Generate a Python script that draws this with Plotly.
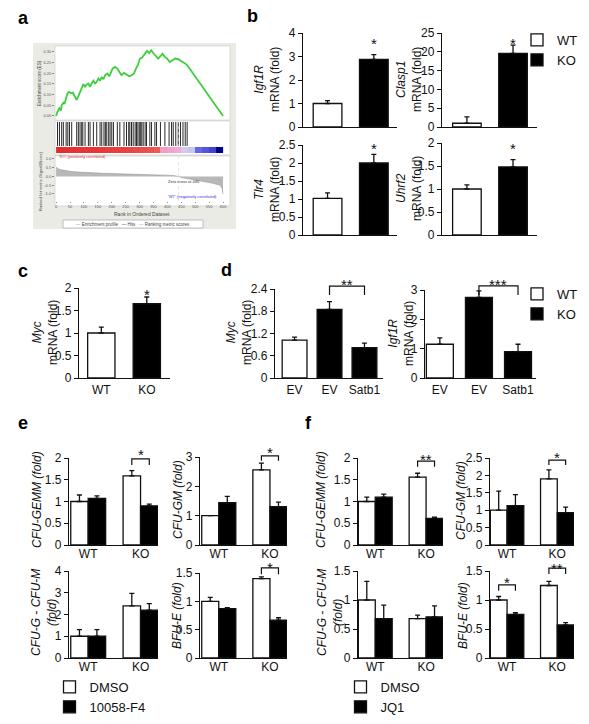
import plotly.graph_objects as go

W, H = 589, 724
FONT = "Liberation Sans"
INK = "#111111"

# ---------------- data ----------------
# panel a : GSEA
es_rank = [0, 5, 12, 17, 20, 26, 30, 35, 41, 47, 53, 60, 68, 74, 80, 86, 92, 98, 104, 110,
           116, 122, 129, 134, 140, 146, 152, 158, 164, 170, 176, 184, 191, 197, 203, 212, 220, 227, 235, 244,
           253, 263, 271, 280, 287, 295, 301, 308, 315, 323, 327, 335, 342, 349, 358, 367, 375, 382, 391, 399,
           409, 418, 428, 439, 451, 459, 468, 474, 600]
es_val = [0.0, 0.02, 0.036, 0.025, 0.05, 0.062, 0.056, 0.075, 0.106, 0.113, 0.106, 0.109, 0.09, 0.075, 0.093, 0.109, 0.129, 0.149, 0.137, 0.148,
          0.152, 0.137, 0.155, 0.165, 0.152, 0.16, 0.176, 0.165, 0.183, 0.172, 0.191, 0.199, 0.186, 0.207, 0.222, 0.23, 0.222, 0.207, 0.191, 0.202,
          0.194, 0.186, 0.191, 0.199, 0.222, 0.242, 0.269, 0.273, 0.284, 0.295, 0.305, 0.295, 0.308, 0.295, 0.284, 0.269, 0.28, 0.292, 0.277, 0.269,
          0.253, 0.261, 0.269, 0.266, 0.258, 0.249, 0.242, 0.233, 0.0]
hit_rank = [5, 12, 20, 26, 36, 42, 48, 56, 74, 80, 86, 92, 96, 104, 116, 122, 134, 146, 158, 164,
            172, 177, 182, 189, 194, 200, 206, 220, 229, 244, 253, 261, 265, 271, 277, 284, 289, 294, 299, 304,
            308, 313, 320, 325, 337, 343, 355, 361, 375, 391, 406, 415, 421, 430, 439, 447, 456, 464, 471]
metric_rank = [0, 5, 15, 30, 50, 80, 120, 170, 230, 300, 370, 420, 440, 450, 480, 520, 560, 590, 597, 600]
metric_val = [0.55, 0.46, 0.39, 0.33, 0.29, 0.25, 0.21, 0.18, 0.15, 0.12, 0.09, 0.06, 0.0, -0.06, -0.15, -0.26, -0.38, -0.5, -0.7, -1.0]
band_rank = [12.5, 37.5, 62.5, 87.5, 112.5, 137.5, 162.5, 187.5, 212.5, 237.5, 262.5, 287.5,
             312.5, 337.5, 362.5, 387.5, 412.5, 437.5, 462.5, 487.5, 512.5, 537.5, 562.5, 587.5]
band_val = [1.0, 0.98, 0.97, 0.96, 0.95, 0.94, 0.93, 0.92, 0.91, 0.9, 0.88, 0.86,
            0.84, 0.82, 0.78, 0.45, 0.42, 0.4, -0.1, -0.15, -0.5, -0.55, -0.62, -1.0]
es_ticks = [0.0, 0.05, 0.10, 0.15, 0.20, 0.25, 0.30]
rank_ticks = [0, 50, 100, 150, 200, 250, 300, 350, 400, 450, 500, 550, 600]
metric_ticks = [1.0, 0.5, 0.0, -0.5, -1.0]

# panel b : WT vs KO mRNA
b_genes = ["Igf1R", "Clasp1", "Tlr4", "Uhrf2"]
b_wt = [1.0, 1.0, 1.02, 1.0]
b_wt_err = [0.12, 1.7, 0.15, 0.09]
b_ko = [2.88, 19.6, 2.0, 1.48]
b_ko_err = [0.2, 2.2, 0.24, 0.16]
b_yticks = [[0, 1, 2, 3, 4], [0, 5, 10, 15, 20, 25], [0, 0.5, 1, 1.5, 2, 2.5], [0, 0.5, 1, 1.5, 2]]

# panel c : Myc
c_labels = ["WT", "KO"]
c_myc = [1.0, 1.65]
c_myc_err = [0.13, 0.15]

# panel d : rescue by Satb1
d_labels = ["EV", "EV", "Satb1"]
d_myc = [1.02, 1.85, 0.82]
d_myc_err = [0.08, 0.21, 0.12]
d_igf1r = [1.15, 2.75, 0.9]
d_igf1r_err = [0.22, 0.22, 0.25]

# panels e / f : colony assays (WT, KO)
groups = ["WT", "KO"]
e_titles = ["CFU-GEMM (fold)", "CFU-GM (fold)", "CFU-G - CFU-M<br>(fold)", "BFU-E (fold)"]
e_dmso = [[1.0, 1.59], [1.0, 2.56], [1.0, 2.4], [1.0, 1.4]]
e_dmso_err = [[0.15, 0.12], [0.0, 0.23], [0.3, 0.57], [0.07, 0.03]]
e_drug = [[1.07, 0.9], [1.44, 1.31], [1.0, 2.2], [0.87, 0.67]]
e_drug_err = [[0.06, 0.04], [0.22, 0.15], [0.3, 0.3], [0.02, 0.04]]
e_yticks = [[0, 0.5, 1, 1.5, 2], [0, 1, 2, 3], [0, 1, 2, 3, 4], [0, 0.5, 1, 1.5]]

f_dmso = [[1.0, 1.56], [1.0, 1.9], [1.0, 0.68], [1.0, 1.25]]
f_dmso_err = [[0.1, 0.09], [0.55, 0.26], [0.32, 0.06], [0.06, 0.07]]
f_drug = [[1.1, 0.61], [1.13, 0.93], [0.68, 0.71], [0.75, 0.57]]
f_drug_err = [[0.07, 0.03], [0.32, 0.16], [0.23, 0.19], [0.03, 0.04]]
f_yticks = [[0, 0.5, 1, 1.5, 2], [0, 0.5, 1, 1.5, 2, 2.5], [0, 0.5, 1, 1.5], [0, 0.5, 1, 1.5]]

# ---------------- helpers ----------------
fig = go.Figure()
layout = dict(width=W, height=H, margin=dict(l=0, r=0, t=0, b=0, autoexpand=False),
              paper_bgcolor="white", plot_bgcolor="rgba(0,0,0,0)",
              barmode="overlay", font=dict(family=FONT, size=12, color=INK),
              annotations=[], shapes=[])
AX = {}


def xn(i):
    return "x" if i == 1 else f"x{i}"


def yn(i):
    return "y" if i == 1 else f"y{i}"


def dom(box):
    l, r, t, b = box
    return [l / W, r / W], [1 - b / H, 1 - t / H]


def px(x, y):
    return x / W, 1 - y / H


def ypaper(i, v):
    """paper fraction of value v on the y axis of subplot i"""
    box, yr = AX[i]
    frac = (v - yr[0]) / (yr[1] - yr[0])
    return (1 - box[3] / H) + frac * (box[3] - box[2]) / H


def bar_axes(i, box, xr, yr, yt, xtv=None, xtt=None, standoff=0):
    AX[i] = (box, yr)
    xd, yd = dom(box)
    layout["xaxis" if i == 1 else f"xaxis{i}"] = dict(
        domain=xd, anchor=yn(i), range=xr, showline=True, linecolor=INK, linewidth=1.3,
        ticks="", showgrid=False, zeroline=False, tickvals=xtv or [], ticktext=xtt or [],
        ticklabelstandoff=standoff, tickfont=dict(size=12, color=INK), fixedrange=True)
    layout["yaxis" if i == 1 else f"yaxis{i}"] = dict(
        domain=yd, anchor=xn(i), range=yr, showline=True, linecolor=INK, linewidth=1.3,
        ticks="outside", ticklen=4, tickwidth=1.2, tickcolor=INK, tickvals=yt,
        showgrid=False, zeroline=False, tickfont=dict(size=12, color=INK), fixedrange=True)


def bars(i, xs, ys, errs, color, width, name=None, legend=None):
    fig.add_trace(go.Bar(
        x=xs, y=ys, width=width, xaxis=xn(i), yaxis=yn(i), name=name or "",
        marker=dict(color=color, line=dict(color=INK, width=1.3)),
        error_y=dict(type="data", array=errs, arrayminus=[0] * len(errs), symmetric=False,
                     color=INK, thickness=1.3, width=2.5),
        showlegend=legend is not None, legend=legend or "legend", hoverinfo="skip"))


def bracket(i, x0, x1, ytop, yleg):
    yt, yl = ypaper(i, ytop), ypaper(i, yleg)
    layout["shapes"].append(dict(type="path", xref=xn(i), yref="paper",
                                 path=f"M {x0},{yl} L {x0},{yt} L {x1},{yt} L {x1},{yl}",
                                 line=dict(color=INK, width=1.2)))


def star(i, x, y, text):
    layout["annotations"].append(dict(x=x, y=ypaper(i, y), xref=xn(i), yref="paper", text=text,
                                      showarrow=False, font=dict(size=15, color=INK), borderpad=0,
                                      xanchor="center", yanchor="middle", yshift=-3))


def ytitle(cx, cy, text, size=12):
    x, y = px(cx, cy)
    layout["annotations"].append(dict(x=x, y=y, xref="paper", yref="paper", text=text, showarrow=False,
                                      textangle=-90, xanchor="center", yanchor="middle",
                                      font=dict(size=size, color=INK)))


def label(cx, cy, text, size=18):
    x, y = px(cx, cy)
    layout["annotations"].append(dict(x=x, y=y, xref="paper", yref="paper", text=f"<b>{text}</b>",
                                      showarrow=False, xanchor="center", yanchor="middle",
                                      font=dict(size=size, color="black")))


def tiny(cx, cy, text, size=4.5, color="#444", anchor="center", angle=0):
    x, y = px(cx, cy)
    layout["annotations"].append(dict(x=x, y=y, xref="paper", yref="paper", text=text, showarrow=False,
                                      xanchor=anchor, yanchor="middle", textangle=angle,
                                      font=dict(size=size, color=color)))


# ---------------- panel a : GSEA ----------------
layout["shapes"].append(dict(type="rect", xref="paper", yref="paper", layer="below",
                             x0=33 / W, x1=236 / W, y0=1 - 229 / H, y1=1 - 43 / H,
                             fillcolor="#ebebe5", line=dict(width=0)))
for (l, t, r, b) in [(55, 46, 230, 120), (55, 121, 230, 155), (55, 156, 230, 206)]:
    layout["shapes"].append(dict(type="rect", xref="paper", yref="paper", layer="below",
                                 x0=l / W, x1=r / W, y0=1 - b / H, y1=1 - t / H,
                                 fillcolor="white", line=dict(color="#c8c8c8", width=0.6)))
layout["shapes"].append(dict(type="rect", xref="paper", yref="paper", layer="below",
                             x0=63 / W, x1=203 / W, y0=1 - 228 / H, y1=1 - 220 / H,
                             fillcolor="white", line=dict(color="#999999", width=0.6)))

GX = [-4, 625]
gtick = dict(size=4, color="#555")
# ES
xd, yd = dom((55, 230, 46, 120))
layout["xaxis"] = dict(domain=xd, anchor="y", range=GX, showline=False, showticklabels=False,
                       ticks="", showgrid=False, zeroline=False, fixedrange=True)
layout["yaxis"] = dict(domain=yd, anchor="x", range=[-0.019, 0.328], showline=False, ticks="outside",
                       ticklen=2, tickcolor="#888", tickvals=es_ticks,
                       ticktext=[f"{v:.2f}" for v in es_ticks], tickfont=gtick,
                       showgrid=False, zeroline=False, fixedrange=True)
fig.add_trace(go.Scatter(x=es_rank, y=es_val, mode="lines", line=dict(color="#3ccf3c", width=1.8),
                         xaxis="x", yaxis="y", showlegend=False, hoverinfo="skip"))
# hits
xd, yd = dom((55, 230, 122, 146))
layout["xaxis2"] = dict(domain=xd, anchor="y2", range=GX, visible=False, fixedrange=True)
layout["yaxis2"] = dict(domain=yd, anchor="x2", range=[0, 1], visible=False, fixedrange=True)
hx, hy = [], []
for h in hit_rank:
    hx += [h, h, None]
    hy += [0, 1, None]
fig.add_trace(go.Scatter(x=hx, y=hy, mode="lines", line=dict(color="#2a2a2a", width=1),
                         xaxis="x2", yaxis="y2", showlegend=False, hoverinfo="skip"))
# colour band
xd, yd = dom((55, 230, 147, 153))
layout["xaxis3"] = dict(domain=xd, anchor="y3", range=GX, visible=False, fixedrange=True)
layout["yaxis3"] = dict(domain=yd, anchor="x3", range=[-0.5, 0.5], visible=False, fixedrange=True)
fig.add_trace(go.Heatmap(x=band_rank, y=[0], z=[band_val], zmin=-1, zmax=1, showscale=False,
                         colorscale=[[0.0, "#00008b"], [0.2, "#4444d6"], [0.25, "#6767e2"],
                                     [0.42, "#c4c4f0"], [0.5, "#ead6f0"], [0.7, "#f2a6d8"],
                                     [0.8, "#f08080"], [0.9, "#ec5656"], [1.0, "#e42a2a"]],
                         xaxis="x3", yaxis="y3", hoverinfo="skip"))
# ranked list metric
xd, yd = dom((55, 230, 157, 201))
layout["xaxis4"] = dict(domain=xd, anchor="y4", range=GX, showline=False, ticks="outside", ticklen=1,
                        tickcolor="#888", tickvals=rank_ticks, tickfont=gtick,
                        showgrid=False, zeroline=False, fixedrange=True)
layout["yaxis4"] = dict(domain=yd, anchor="x4", range=[-1.4, 1.11], showline=False, ticks="outside",
                        ticklen=2, tickcolor="#888", tickvals=metric_ticks,
                        ticktext=[f"{v:.1f}" for v in metric_ticks], tickfont=gtick,
                        showgrid=False, zeroline=False, fixedrange=True)
fig.add_trace(go.Scatter(x=metric_rank, y=metric_val, mode="lines", fill="tozeroy",
                         fillcolor="#b8b8b8", line=dict(color="#9a9a9a", width=0.6),
                         xaxis="x4", yaxis="y4", showlegend=False, hoverinfo="skip"))
layout["shapes"].append(dict(type="line", xref="x4", yref="paper", x0=440, x1=440,
                             y0=1 - 201 / H, y1=1 - 122 / H, line=dict(color="#d0d0d0", width=0.6, dash="dot")))
tiny(40, 83, "Enrichment score (ES)", angle=-90)
tiny(40, 181, "Ranked list metric (Signal2Noise)", size=4, angle=-90)
tiny(57, 156, "'KO' (positively correlated)", size=4, color="#e03030", anchor="left")
tiny(166, 181, "Zero cross at 440", size=4, color="#333", anchor="left")
tiny(166, 197, "'WT' (negatively correlated)", size=4, color="#3333cc", anchor="left")
tiny(142, 214, "Rank in Ordered Dataset", size=5)
tiny(133, 224, "<span style='color:#3ccf3c'>—</span> Enrichment profile   — Hits   "
               "<span style='color:#aaa'>—</span> Ranking metric scores", size=4.5)

# ---------------- panel b ----------------
b_boxes = [(303, 397, 33, 127), (442, 537, 33, 127), (303, 397, 145, 235), (442, 537, 143, 235)]
b_xr = [[-0.53, 1.5], [-0.54, 1.52], [-0.53, 1.5], [-0.54, 1.52]]
b_title_pos = [(267, 80), (409, 80), (267, 190), (409, 189)]
b_star = [3.7, 23.1, 2.5, 1.95]
for k in range(4):
    i = 5 + k
    top = b_yticks[k][-1]
    bar_axes(i, b_boxes[k], b_xr[k], [0, top], b_yticks[k])
    bars(i, [0], [b_wt[k]], [b_wt_err[k]], "white", 0.62, "WT", "legend" if k == 0 else None)
    bars(i, [1], [b_ko[k]], [b_ko_err[k]], "black", 0.62, "KO", "legend" if k == 0 else None)
    star(i, 1, b_star[k], "*")
    ytitle(*b_title_pos[k], f"<i>{b_genes[k]}</i><br>mRNA (fold)")

# ---------------- panel c ----------------
i = 9
bar_axes(i, (79, 170, 288, 378), [-0.49, 1.51], [0, 2], [0, 0.5, 1, 1.5, 2], [0, 1], c_labels)
bars(i, [0], [c_myc[0]], [c_myc_err[0]], "white", 0.6)
bars(i, [1], [c_myc[1]], [c_myc_err[1]], "black", 0.6)
star(i, 1, 1.93, "*")
ytitle(45, 333, "<i>Myc</i><br>mRNA (fold)")

# ---------------- panel d ----------------
i = 10
bar_axes(i, (275, 383, 289, 378), [-0.56, 2.53], [0, 2.4], [0, 0.6, 1.2, 1.8, 2.4], [0, 1, 2], d_labels)
bars(i, [0], [d_myc[0]], [d_myc_err[0]], "white", 0.71, "WT", "legend2")
bars(i, [1, 2], d_myc[1:], d_myc_err[1:], "black", 0.71, "KO", "legend2")
bracket(i, 1, 2, 2.48, 2.24)
star(i, 1.5, 2.6, "**")
ytitle(239, 333, "<i>Myc</i><br>mRNA (fold)")

i = 11
bar_axes(i, (425, 536, 290, 378), [-0.38, 2.46], [0, 3], [0, 1, 2, 3], [0, 1, 2], d_labels)
bars(i, [0], [d_igf1r[0]], [d_igf1r_err[0]], "white", 0.69)
bars(i, [1, 2], d_igf1r[1:], d_igf1r_err[1:], "black", 0.69)
bracket(i, 1, 2, 3.14, 2.83)
star(i, 1.5, 3.3, "***")
ytitle(401, 334, "<i>Igf1R</i><br>mRNA (fold)")

# ---------------- panels e & f ----------------
ef_tv = [0.5, 3.5]
e_boxes = [(69, 158, 458, 545), (200, 287, 457, 545), (69, 158, 571, 658), (200, 287, 573, 658)]
f_boxes = [(358, 443, 458, 545), (490, 574, 458, 545), (358, 443, 571, 658), (490, 574, 571, 658)]
e_title_pos = [(37, 500), (178, 500), (44, 613), (177, 616)]
f_title_pos = [(321, 500), (461, 500), (330, 613), (463, 616)]

for k in range(4):
    i = 12 + k
    bar_axes(i, e_boxes[k], [-0.6, 4.5], [0, e_yticks[k][-1]], e_yticks[k], ef_tv, groups, standoff=-3)
    bars(i, [0, 3], e_dmso[k], e_dmso_err[k], "white", 1.0, "DMSO", "legend3" if k == 0 else None)
    bars(i, [1, 4], e_drug[k], e_drug_err[k], "black", 1.0, "10058-F4", "legend3" if k == 0 else None)
    t = e_titles[k].replace("<br>", "</i><br><i>")
    ytitle(*e_title_pos[k], f"<i>{t}</i>")

    i = 16 + k
    bar_axes(i, f_boxes[k], [-0.52, 4.5], [0, f_yticks[k][-1]], f_yticks[k], ef_tv, groups, standoff=-3)
    bars(i, [0, 3], f_dmso[k], f_dmso_err[k], "white", 1.0, "DMSO", "legend4" if k == 0 else None)
    bars(i, [1, 4], f_drug[k], f_drug_err[k], "black", 1.0, "JQ1", "legend4" if k == 0 else None)
    ytitle(*f_title_pos[k], f"<i>{t}</i>")

# significance marks e
bracket(12, 3, 4, 1.98, 1.84); star(12, 3.5, 2.14, "*")
bracket(13, 3, 4, 3.04, 2.87); star(13, 3.5, 3.24, "*")
bracket(15, 3, 4, 1.59, 1.48); star(15, 3.5, 1.65, "*")
# significance marks f
bracket(16, 3, 4, 1.93, 1.8); star(16, 3.5, 2.04, "**")
bracket(17, 3, 4, 2.44, 2.3); star(17, 3.5, 2.59, "*")
bracket(19, 0, 1, 1.26, 1.16); star(19, 0.5, 1.35, "*")
bracket(19, 3, 4, 1.55, 1.45); star(19, 3.5, 1.6, "**")


# ---------------- legends ----------------
def leg(cx, cy):
    return dict(x=(cx - 28) / W, y=1 - (cy - 13) / H, xanchor="left", yanchor="top",
                font=dict(size=13, color=INK), bgcolor="rgba(0,0,0,0)", borderwidth=0,
                tracegroupgap=0, itemclick=False, itemdoubleclick=False)


layout["legend"] = leg(545, 38)
layout["legend2"] = leg(545, 292)
layout["legend3"] = leg(77.5, 685)
layout["legend4"] = leg(368.5, 685)

# ---------------- panel letters ----------------
label(23, 18, "a")
label(252, 16, "b")
label(23, 271, "c")
label(226, 270, "d")
label(23, 423, "e")
label(308, 423, "f")

fig.update_layout(**layout)
fig.write_html("out.html", config={"displayModeBar": False},
               post_script="document.body.style.margin='0px';document.body.style.overflow='hidden';")
